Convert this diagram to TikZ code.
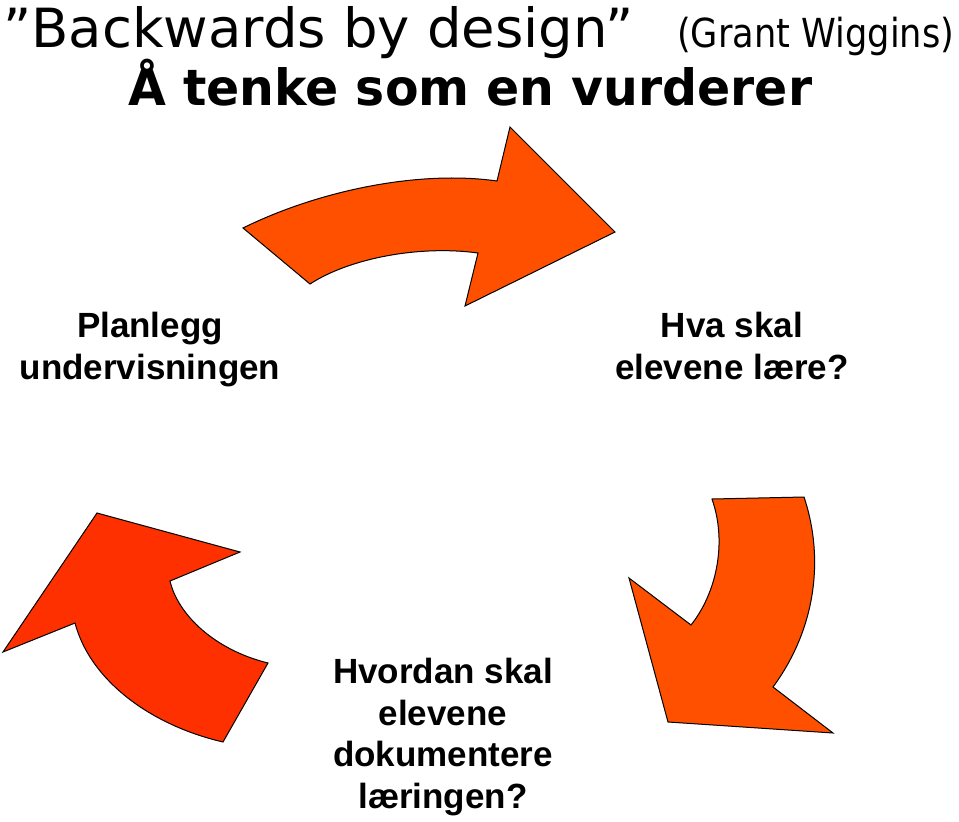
\documentclass[tikz,border=0pt]{standalone}
\usepackage{fontspec}
\setmainfont{DejaVu Sans}
\newfontfamily\labelfont{Liberation Sans}
\definecolor{arrowA}{RGB}{255,80,0}
\definecolor{arrowB}{RGB}{255,48,0}
\tikzset{
  bigarrow/.style={draw=black, line width=1pt, line join=miter},
  steplabel/.style={font=\labelfont\bfseries\fontsize{35}{41.5}\selectfont, align=center, inner sep=0pt, anchor=north},
  titletext/.style={inner sep=0pt, anchor=base west}
}
\begin{document}
\begin{tikzpicture}[x=1pt,y=-1pt]
\useasboundingbox (0,0) rectangle (959,822);
% titles
\node[titletext] (title) at (3,47) {\resizebox{630pt}{\height}{\fontsize{54}{54}\selectfont ”Backwards by design”}};
\node[titletext] (author) at (677,47) {\resizebox{277pt}{\height}{\fontsize{40}{40}\selectfont (Grant Wiggins)}};
\node[titletext] (subtitle) at (128,105) {\resizebox{684pt}{\height}{\fontsize{50}{50}\selectfont\bfseries Å tenke som en vurderer}};
% arrows
\path[bigarrow, fill=arrowA] (243,228) .. controls (320,190) and (420,170) .. (497,181)
  -- (510,127) -- (615,232) -- (465,306) -- (478,253)
  .. controls (420,245) and (350,258) .. (310,284) -- cycle;
\path[bigarrow, fill=arrowA] (712,499) -- (804,497)
  .. controls (825,560) and (815,630) .. (773,687)
  -- (833,733) -- (668,722) -- (629,578) -- (691,625)
  .. controls (715,595) and (728,545) .. (712,499) -- cycle;
\path[bigarrow, fill=arrowB] (97,513) -- (240,552) -- (170,581)
  .. controls (178,615) and (215,650) .. (268,663)
  -- (223,742)
  .. controls (150,725) and (90,680) .. (75,623)
  -- (3,652) -- cycle;
% labels
\node[steplabel] (plan) at (150,312) {Planlegg\\undervisningen};
\node[steplabel] (what) at (732,312) {Hva skal\\elevene lære?};
\node[steplabel] (how) at (443,658) {Hvordan skal\\elevene\\dokumentere\\læringen?};
\end{tikzpicture}
\end{document}
